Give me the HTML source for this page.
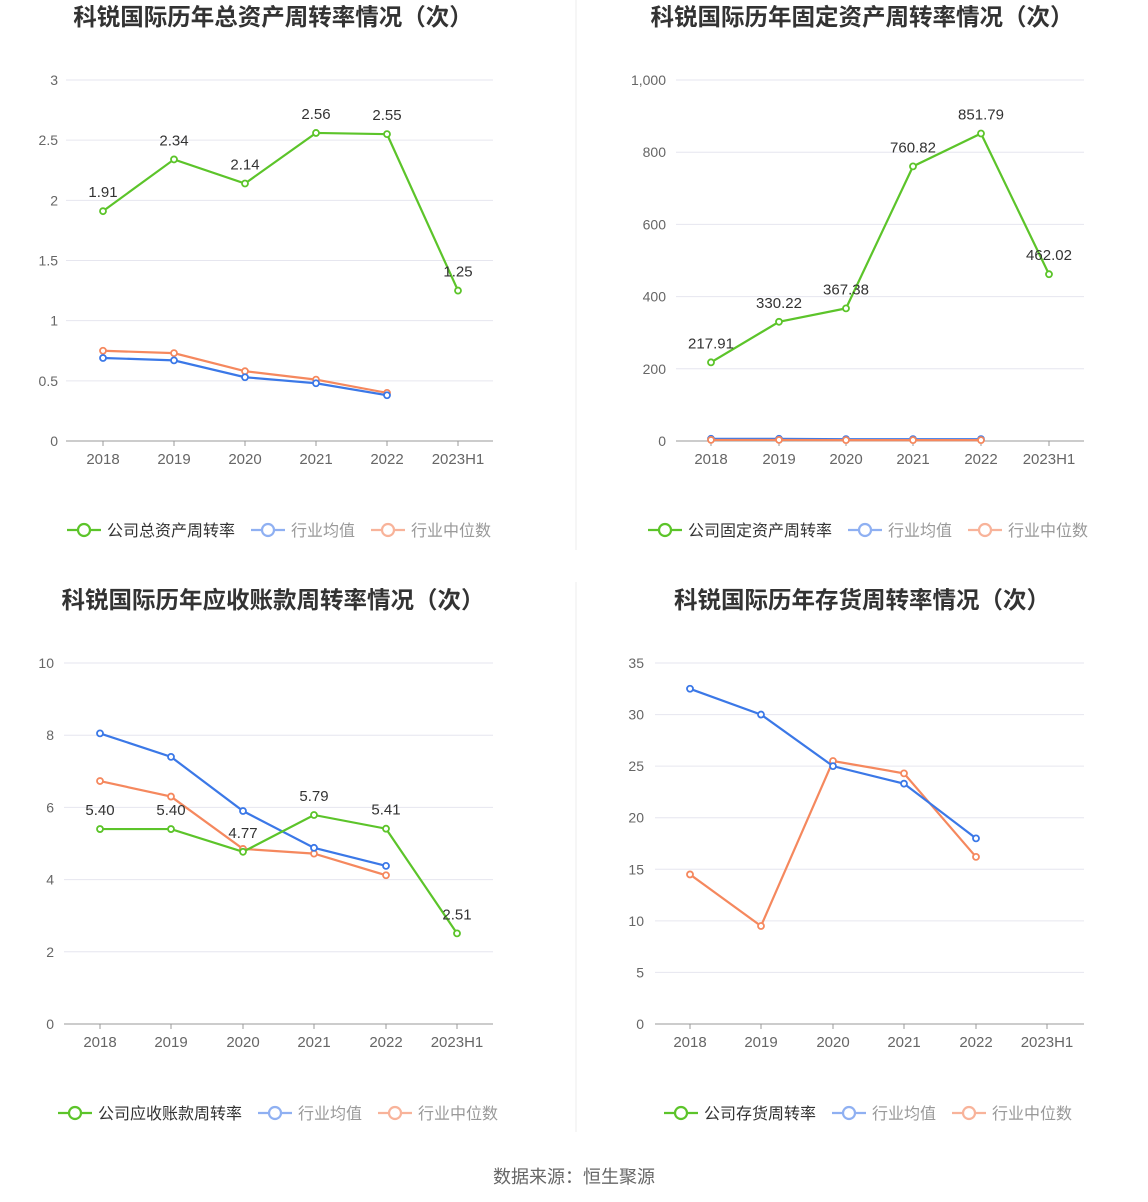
<!DOCTYPE html>
<html><head><meta charset="utf-8"><style>
html,body{margin:0;padding:0;background:#fff;}
svg{display:block;font-family:"Liberation Sans","Noto Sans CJK SC",sans-serif;}
</style></head><body>
<svg id="s" width="1148" height="1202" xmlns="http://www.w3.org/2000/svg"></svg>
<script>
const S=document.getElementById('s');const NS='http://www.w3.org/2000/svg';
function el(t,a,txt){const e=document.createElementNS(NS,t);for(const k in a)e.setAttribute(k,a[k]);if(txt!==undefined)e.textContent=txt;S.appendChild(e);return e;}
const G='#5cc42a',B='#3b78e7',O='#f5885e',GL='#5cc42a',BL='#8fb0f2',OL='#f8b39a';
el('line',{x1:576,y1:0,x2:576,y2:550,stroke:'#eee'});
el('line',{x1:576,y1:582,x2:576,y2:1132,stroke:'#eee'});
function chart(c){
 el('text',{x:c.tx,y:c.ty,'text-anchor':'middle','font-size':23.5,'font-weight':'bold',fill:'#333'},c.title);
 const ys=v=>c.y0-(v/c.max)*(c.y0-c.yt);
 c.ticks.forEach((t,i)=>{const y=ys(t);
  if(t!==0)el('line',{x1:c.px0,y1:y,x2:c.px1,y2:y,stroke:'#e6e6ef'});
  el('text',{x:c.lx,y:y+5,'text-anchor':'end','font-size':14,fill:'#666'},c.tl[i]);});
 el('line',{x1:c.px0,y1:c.y0,x2:c.px1,y2:c.y0,stroke:'#999'});
 const cats=['2018','2019','2020','2021','2022','2023H1'];
 c.xs.forEach((x,i)=>{el('line',{x1:x,y1:c.y0,x2:x,y2:c.y0+5,stroke:'#999'});
  el('text',{x:x,y:c.y0+23,'text-anchor':'middle','font-size':15,fill:'#666'},cats[i]);});
 const ser=c.ob?[[c.avg,B],[c.med,O],[c.co,G]]:[[c.med,O],[c.avg,B],[c.co,G]];
 ser.forEach(([d,col])=>{const pts=d.map((v,i)=>c.xs[i]+','+ys(v)).join(' ');
  el('polyline',{points:pts,fill:'none',stroke:col,'stroke-width':2.2});
  d.forEach((v,i)=>el('circle',{cx:c.xs[i],cy:ys(v),r:3,fill:'#fff',stroke:col,'stroke-width':1.8}));});
 c.co.forEach((v,i)=>el('text',{x:c.xs[i],y:ys(v)-14,'text-anchor':'middle','font-size':15,fill:'#333'},c.lab[i]));
 let x=c.lgx;const y=c.lgy;
 [[c.lg,GL,'#333'],['行业均值',BL,'#999'],['行业中位数',OL,'#999']].forEach(([t,col,tc],i)=>{
  el('line',{x1:x,y1:y,x2:x+34,y2:y,stroke:col,'stroke-width':2.2});
  el('circle',{cx:x+17,cy:y,r:6,fill:'#fff',stroke:col,'stroke-width':2.2});
  el('text',{x:x+40,y:y+6,'font-size':16,fill:tc},t);
  x+=40+t.length*16+16;});
}
chart({title:'科锐国际历年总资产周转率情况（次）',tx:273,ty:25,y0:441,yt:80,max:3,ticks:[0,.5,1,1.5,2,2.5,3],tl:['0','0.5','1','1.5','2','2.5','3'],lx:58,px0:66,px1:493,
xs:[103,174,245,316,387,458],co:[1.91,2.34,2.14,2.56,2.55,1.25],lab:['1.91','2.34','2.14','2.56','2.55','1.25'],avg:[.69,.67,.53,.48,.38],med:[.75,.73,.58,.51,.40],lg:'公司总资产周转率',lgx:67,lgy:530});
chart({title:'科锐国际历年固定资产周转率情况（次）',tx:862,ty:25,y0:441,yt:80,max:1000,ticks:[0,200,400,600,800,1000],tl:['0','200','400','600','800','1,000'],lx:666,px0:676,px1:1084,ob:true,
xs:[711,779,846,913,981,1049],co:[217.91,330.22,367.38,760.82,851.79,462.02],lab:['217.91','330.22','367.38','760.82','851.79','462.02'],avg:[6,6,5,5,5],med:[3,3,2.5,2.5,2.5],lg:'公司固定资产周转率',lgx:648,lgy:530});
chart({title:'科锐国际历年应收账款周转率情况（次）',tx:273,ty:608,y0:1024,yt:663,max:10,ticks:[0,2,4,6,8,10],tl:['0','2','4','6','8','10'],lx:54,px0:64,px1:493,
xs:[100,171,243,314,386,457],co:[5.40,5.40,4.77,5.79,5.41,2.51],lab:['5.40','5.40','4.77','5.79','5.41','2.51'],avg:[8.05,7.4,5.9,4.88,4.38],med:[6.73,6.3,4.85,4.72,4.12],lg:'公司应收账款周转率',lgx:58,lgy:1113});
chart({title:'科锐国际历年存货周转率情况（次）',tx:862,ty:608,y0:1024,yt:663,max:35,ticks:[0,5,10,15,20,25,30,35],tl:['0','5','10','15','20','25','30','35'],lx:644,px0:655,px1:1084,
xs:[690,761,833,904,976,1047],co:[],lab:[],avg:[32.5,30,25,23.3,18],med:[14.5,9.5,25.5,24.3,16.2],lg:'公司存货周转率',lgx:664,lgy:1113});
el('text',{x:574,y:1183,'text-anchor':'middle','font-size':18,fill:'#666'},'数据来源：恒生聚源');
</script>
</body></html>
